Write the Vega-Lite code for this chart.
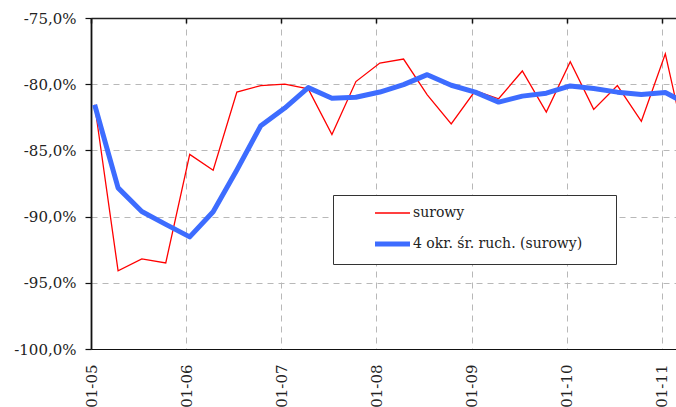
{
  "$schema": "https://vega.github.io/schema/vega-lite/v6.json",
  "autosize": "none",
  "width": 585,
  "height": 331,
  "padding": {"left": 91, "top": 18, "right": 0, "bottom": 58},
  "background": "white",
  "datasets": {
    "rows": [
      {"d": "2005-01-15", "s": "surowy", "v": -0.8155},
      {"d": "2005-04-15", "s": "surowy", "v": -0.941},
      {"d": "2005-07-15", "s": "surowy", "v": -0.932},
      {"d": "2005-10-15", "s": "surowy", "v": -0.935},
      {"d": "2006-01-15", "s": "surowy", "v": -0.853},
      {"d": "2006-04-15", "s": "surowy", "v": -0.865},
      {"d": "2006-07-15", "s": "surowy", "v": -0.806},
      {"d": "2006-10-15", "s": "surowy", "v": -0.801},
      {"d": "2007-01-15", "s": "surowy", "v": -0.800},
      {"d": "2007-04-15", "s": "surowy", "v": -0.8035},
      {"d": "2007-07-15", "s": "surowy", "v": -0.838},
      {"d": "2007-10-15", "s": "surowy", "v": -0.798},
      {"d": "2008-01-15", "s": "surowy", "v": -0.784},
      {"d": "2008-04-15", "s": "surowy", "v": -0.781},
      {"d": "2008-07-15", "s": "surowy", "v": -0.808},
      {"d": "2008-10-15", "s": "surowy", "v": -0.830},
      {"d": "2009-01-15", "s": "surowy", "v": -0.805},
      {"d": "2009-04-15", "s": "surowy", "v": -0.811},
      {"d": "2009-07-15", "s": "surowy", "v": -0.790},
      {"d": "2009-10-15", "s": "surowy", "v": -0.821},
      {"d": "2010-01-15", "s": "surowy", "v": -0.783},
      {"d": "2010-04-15", "s": "surowy", "v": -0.819},
      {"d": "2010-07-15", "s": "surowy", "v": -0.801},
      {"d": "2010-10-15", "s": "surowy", "v": -0.828},
      {"d": "2011-01-15", "s": "surowy", "v": -0.777},
      {"d": "2011-04-15", "s": "surowy", "v": -0.856},
      {"d": "2005-01-15", "s": "4 okr. śr. ruch. (surowy)", "v": -0.8155},
      {"d": "2005-04-15", "s": "4 okr. śr. ruch. (surowy)", "v": -0.8783},
      {"d": "2005-07-15", "s": "4 okr. śr. ruch. (surowy)", "v": -0.8962},
      {"d": "2005-10-15", "s": "4 okr. śr. ruch. (surowy)", "v": -0.9059},
      {"d": "2006-01-15", "s": "4 okr. śr. ruch. (surowy)", "v": -0.9153},
      {"d": "2006-04-15", "s": "4 okr. śr. ruch. (surowy)", "v": -0.8963},
      {"d": "2006-07-15", "s": "4 okr. śr. ruch. (surowy)", "v": -0.8648},
      {"d": "2006-10-15", "s": "4 okr. śr. ruch. (surowy)", "v": -0.8313},
      {"d": "2007-01-15", "s": "4 okr. śr. ruch. (surowy)", "v": -0.818},
      {"d": "2007-04-15", "s": "4 okr. śr. ruch. (surowy)", "v": -0.8026},
      {"d": "2007-07-15", "s": "4 okr. śr. ruch. (surowy)", "v": -0.8106},
      {"d": "2007-10-15", "s": "4 okr. śr. ruch. (surowy)", "v": -0.8099},
      {"d": "2008-01-15", "s": "4 okr. śr. ruch. (surowy)", "v": -0.8059},
      {"d": "2008-04-15", "s": "4 okr. śr. ruch. (surowy)", "v": -0.8003},
      {"d": "2008-07-15", "s": "4 okr. śr. ruch. (surowy)", "v": -0.7928},
      {"d": "2008-10-15", "s": "4 okr. śr. ruch. (surowy)", "v": -0.8008},
      {"d": "2009-01-15", "s": "4 okr. śr. ruch. (surowy)", "v": -0.806},
      {"d": "2009-04-15", "s": "4 okr. śr. ruch. (surowy)", "v": -0.8135},
      {"d": "2009-07-15", "s": "4 okr. śr. ruch. (surowy)", "v": -0.809},
      {"d": "2009-10-15", "s": "4 okr. śr. ruch. (surowy)", "v": -0.8068},
      {"d": "2010-01-15", "s": "4 okr. śr. ruch. (surowy)", "v": -0.8013},
      {"d": "2010-04-15", "s": "4 okr. śr. ruch. (surowy)", "v": -0.8033},
      {"d": "2010-07-15", "s": "4 okr. śr. ruch. (surowy)", "v": -0.806},
      {"d": "2010-10-15", "s": "4 okr. śr. ruch. (surowy)", "v": -0.8078},
      {"d": "2011-01-15", "s": "4 okr. śr. ruch. (surowy)", "v": -0.8063},
      {"d": "2011-04-15", "s": "4 okr. śr. ruch. (surowy)", "v": -0.8155}
    ]
  },
  "data": {"name": "rows"},
  "resolve": {"axis": {"x": "independent"}},
  "layer": [
    {
      "transform": [{"filter": "datum.s === 'surowy'"}],
      "mark": {"type": "line", "clip": true, "strokeJoin": "miter", "interpolate": "linear"},
      "encoding": {
        "x": {
          "field": "d", "type": "temporal",
          "scale": {"type": "utc", "domain": [{"year": 2005, "month": 1, "date": 1, "utc": true}, {"year": 2011, "month": 2, "date": 25, "utc": true}], "nice": false},
          "axis": {
            "orient": "bottom", "title": null,
            "labelExpr": "utcFormat(datum.value, '%m-%y')",
            "values": [
              {"year": 2005, "month": 1, "date": 1, "utc": true},
              {"year": 2006, "month": 1, "date": 1, "utc": true},
              {"year": 2007, "month": 1, "date": 1, "utc": true},
              {"year": 2008, "month": 1, "date": 1, "utc": true},
              {"year": 2009, "month": 1, "date": 1, "utc": true},
              {"year": 2010, "month": 1, "date": 1, "utc": true},
              {"year": 2011, "month": 1, "date": 1, "utc": true}
            ],
            "labelAngle": -90, "labelPadding": 15, "ticks": false, "tickSize": 0,
            "grid": true, "gridColor": "#b8b8b8", "gridDash": [6, 5], "gridWidth": 1,
            "domainColor": "#111", "domainWidth": 1.2,
            "labelFont": "DejaVu Serif", "labelFontSize": 15, "labelColor": "#222",
            "labelFlush": false, "labelOverlap": false
          }
        },
        "y": {
          "field": "v", "type": "quantitative",
          "scale": {"domain": [-1, -0.75], "nice": false, "zero": false},
          "axis": {
            "title": null, "format": ".1%", "values": [-1, -0.95, -0.9, -0.85, -0.8, -0.75],
            "grid": true, "gridColor": "#b8b8b8", "gridDash": [6, 5], "gridWidth": 1,
            "domainColor": "#111", "domainWidth": 1.8,
            "tickColor": "#111", "tickSize": 6, "tickWidth": 1.2, "labelPadding": 9,
            "labelFont": "DejaVu Serif", "labelFontSize": 15, "labelColor": "#222"
          }
        },
        "color": {
          "field": "s", "type": "nominal",
          "scale": {"domain": ["surowy", "4 okr. śr. ruch. (surowy)"], "range": ["#ff0000", "#3d6cff"]},
          "legend": {"title": "\u00a0", "titleOrient": "right", "titlePadding": 24}
        },
        "strokeWidth": {
          "field": "s", "type": "nominal",
          "scale": {"domain": ["surowy", "4 okr. śr. ruch. (surowy)"], "range": [1.3, 5]},
          "legend": {"title": "\u00a0", "titleOrient": "right", "titlePadding": 24}
        }
      }
    },
    {
      "transform": [{"filter": "datum.s !== 'surowy'"}],
      "mark": {"type": "line", "clip": true, "strokeJoin": "round", "interpolate": "linear"},
      "encoding": {
        "x": {
          "field": "d", "type": "temporal",
          "axis": {
            "orient": "top", "title": null, "labels": false, "grid": false,
            "values": [
              {"year": 2005, "month": 1, "date": 1, "utc": true},
              {"year": 2006, "month": 1, "date": 1, "utc": true},
              {"year": 2007, "month": 1, "date": 1, "utc": true},
              {"year": 2008, "month": 1, "date": 1, "utc": true},
              {"year": 2009, "month": 1, "date": 1, "utc": true},
              {"year": 2010, "month": 1, "date": 1, "utc": true},
              {"year": 2011, "month": 1, "date": 1, "utc": true}
            ],
            "ticks": true, "tickSize": -5, "tickColor": "#111", "tickWidth": 1.5,
            "domainColor": "#222", "domainWidth": 1.5
          }
        },
        "y": {"field": "v", "type": "quantitative"},
        "color": {"field": "s", "type": "nominal", "legend": {"title": "\u00a0", "titleOrient": "right", "titlePadding": 24}},
        "strokeWidth": {"field": "s", "type": "nominal", "legend": {"title": "\u00a0", "titleOrient": "right", "titlePadding": 24}}
      }
    }
  ],
  "config": {
    "view": {"stroke": null},
    "locale": {
      "number": {"decimal": ",", "thousands": "\u00a0", "grouping": [3], "currency": ["", " zł"], "minus": "-"}
    },
    "legend": {
      "orient": "none",
      "legendX": 242,
      "legendY": 177,
      "strokeColor": "#333",
      "fillColor": "white",
      "padding": 10,
      "symbolType": "M-2.5,0H2.5",
      "symbolSize": 196,
      "symbolOffset": 40,
      "labelOffset": 11,
      "rowPadding": 13.5,
      "titleFont": "DejaVu Serif",
      "titleFontSize": 14,
      "labelFont": "DejaVu Serif",
      "labelFontSize": 14,
      "labelColor": "#222",
      "labelLimit": 400
    }
  }
}
